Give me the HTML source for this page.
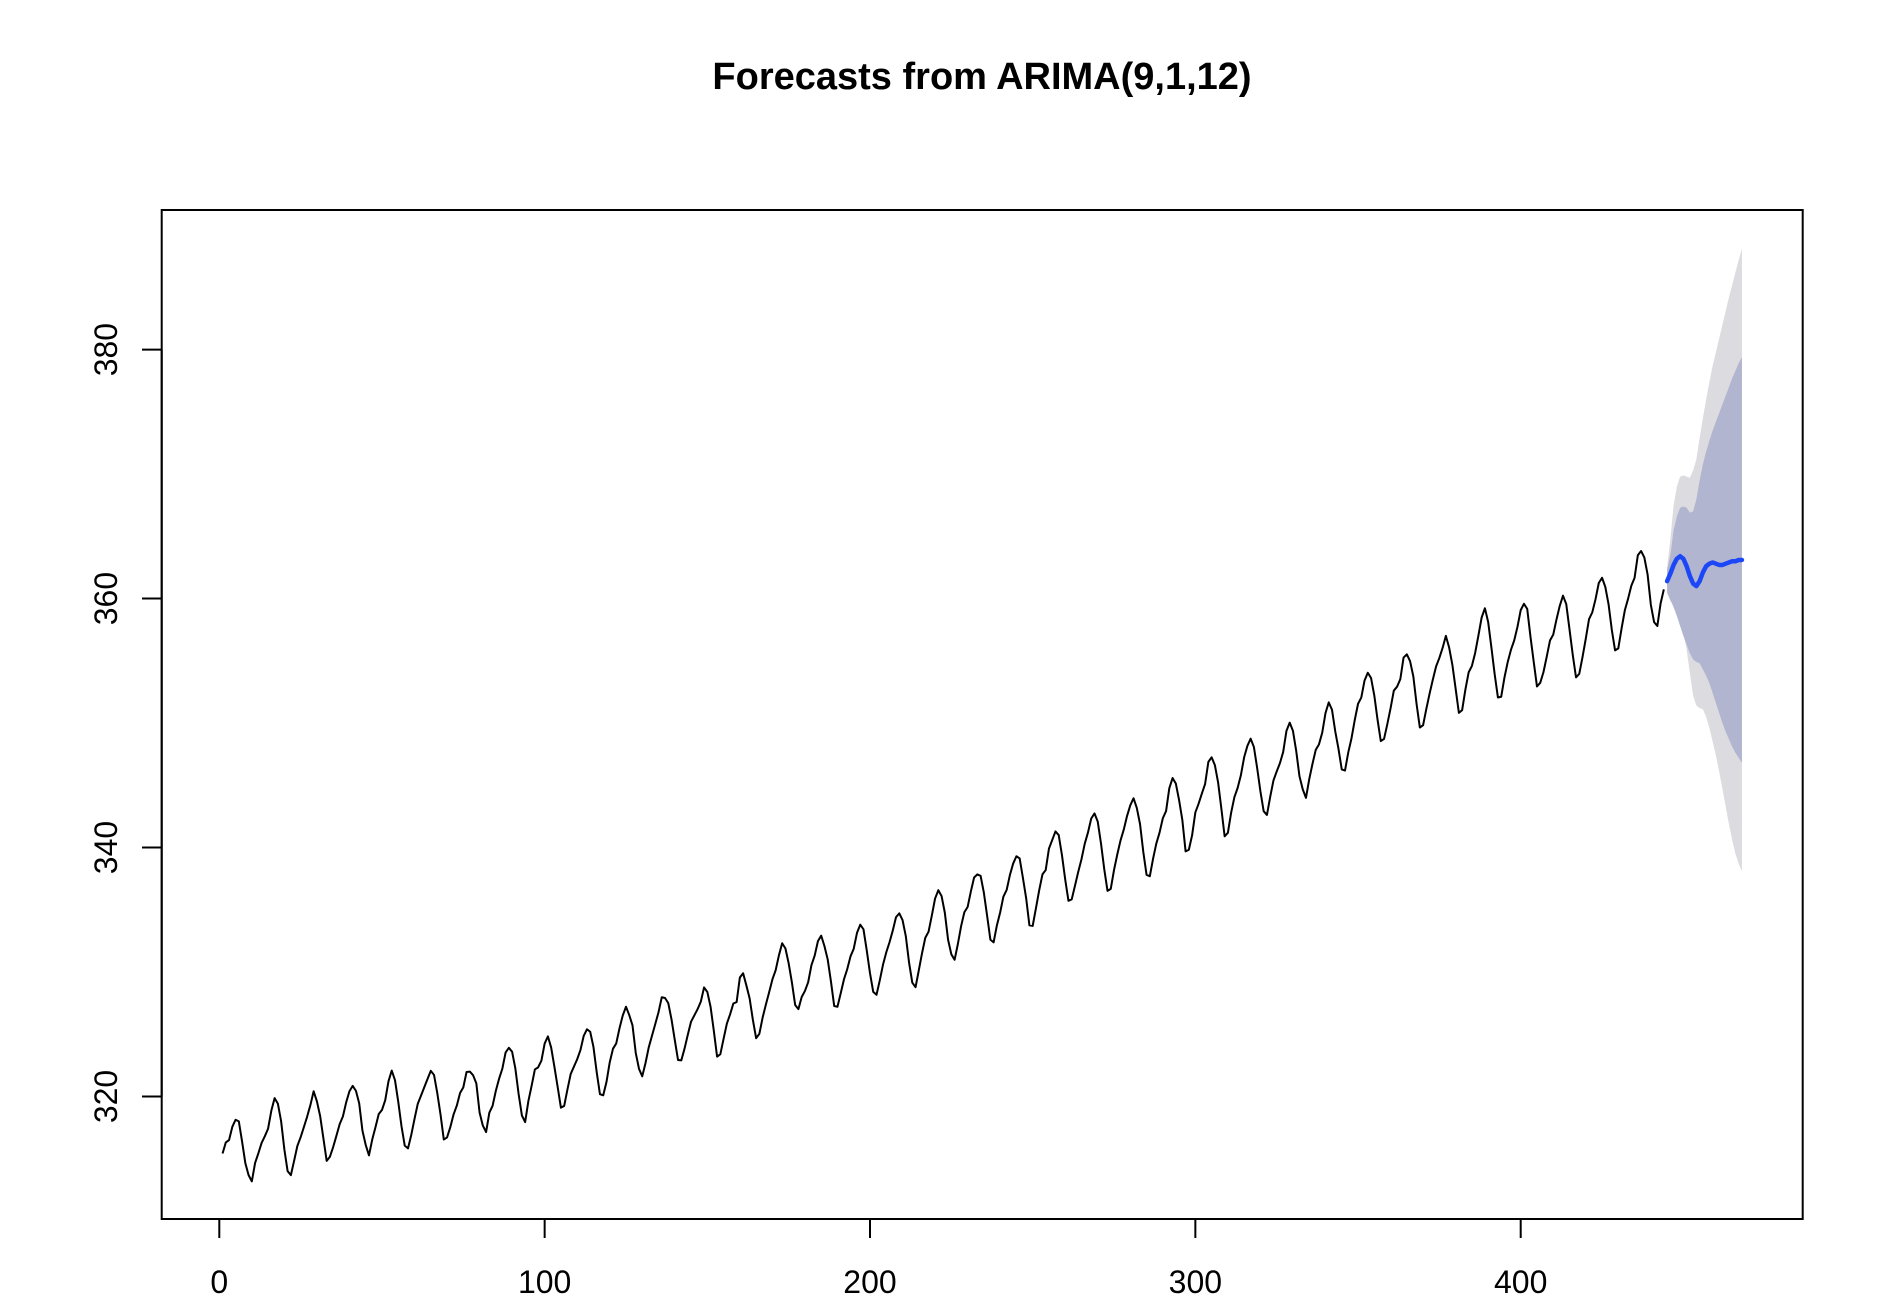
<!DOCTYPE html>
<html><head><meta charset="utf-8"><title>Forecasts from ARIMA(9,1,12)</title>
<style>
html,body{margin:0;padding:0;background:#fff;}
svg{display:block;font-family:"Liberation Sans",sans-serif;}
</style></head>
<body>
<svg id="chart" width="1880" height="1300" viewBox="0 0 1880 1300" xmlns="http://www.w3.org/2000/svg">
<rect width="1880" height="1300" fill="#fff"/>
<text x="982" y="89" text-anchor="middle" font-size="38" font-weight="bold">Forecasts from ARIMA(9,1,12)</text>
<g id="bands"></g>
<g id="series"></g>
<g id="axes"></g>
<rect x="161.7" y="210" width="1641" height="1009" fill="none" stroke="#000" stroke-width="2"/>
</svg>
<script>
const co2Values = [
315.42,316.31,316.50,317.56,318.13,318.00,316.39,314.65,313.68,313.18,314.66,315.43,
316.27,316.81,317.42,318.87,319.87,319.43,318.01,315.74,314.00,313.68,314.84,316.03,
316.73,317.54,318.38,319.31,320.42,319.61,318.42,316.63,314.83,315.16,315.94,316.85,
317.78,318.40,319.53,320.42,320.85,320.45,319.45,317.25,316.11,315.27,316.53,317.53,
318.58,318.92,319.70,321.22,322.08,321.31,319.58,317.61,316.05,315.83,316.91,318.20,
319.41,320.07,320.74,321.40,322.06,321.73,320.27,318.54,316.54,316.71,317.53,318.55,
319.27,320.28,320.73,321.97,322.00,321.71,321.05,318.71,317.66,317.14,318.70,319.25,
320.46,321.43,322.23,323.54,323.91,323.59,322.24,320.20,318.48,317.94,319.63,320.87,
322.17,322.34,322.88,324.25,324.83,323.93,322.38,320.76,319.10,319.24,320.56,321.80,
322.40,322.99,323.73,324.86,325.40,325.20,323.98,321.95,320.18,320.09,321.16,322.74,
323.83,324.26,325.47,326.50,327.21,326.54,325.72,323.50,322.22,321.62,322.69,323.95,
324.89,325.82,326.77,327.97,327.91,327.50,326.18,324.53,322.93,322.90,323.85,324.96,
326.01,326.51,327.01,327.62,328.76,328.40,327.20,325.27,323.20,323.40,324.63,325.85,
326.60,327.47,327.58,329.56,329.90,328.92,327.88,326.16,324.68,325.04,326.34,327.39,
328.37,329.40,330.14,331.33,332.31,331.90,330.70,329.15,327.35,327.02,327.99,328.48,
329.18,330.55,331.32,332.48,332.92,332.08,331.01,329.23,327.27,327.21,328.29,329.41,
330.23,331.25,331.87,333.14,333.80,333.43,331.73,329.90,328.40,328.17,329.32,330.59,
331.58,332.39,333.33,334.41,334.71,334.17,332.89,330.77,329.14,328.78,330.14,331.52,
332.75,333.24,334.53,335.90,336.57,336.10,334.76,332.59,331.42,330.98,332.24,333.68,
334.80,335.22,336.47,337.59,337.84,337.72,336.37,334.51,332.60,332.38,333.75,334.78,
336.05,336.59,337.79,338.71,339.30,339.12,337.56,335.92,333.75,333.70,335.12,336.56,
337.84,338.19,339.91,340.60,341.29,341.00,339.39,337.43,335.72,335.84,336.93,338.04,
339.06,340.30,341.21,342.33,342.74,342.08,340.32,338.26,336.52,336.68,338.19,339.44,
340.57,341.44,342.53,343.39,343.96,343.18,341.88,339.65,337.81,337.69,339.09,340.32,
341.20,342.35,342.93,344.77,345.58,345.14,343.81,342.21,339.69,339.82,340.98,342.82,
343.52,344.33,345.11,346.88,347.25,346.62,345.22,343.11,340.90,341.18,342.80,344.04,
344.79,345.82,347.25,348.17,348.74,348.07,346.38,344.51,342.92,342.62,344.06,345.38,
346.11,346.78,347.68,349.37,350.03,349.37,347.76,345.73,344.68,343.99,345.48,346.72,
347.84,348.29,349.23,350.80,351.66,351.07,349.33,347.92,346.27,346.18,347.64,348.78,
350.25,351.54,352.05,353.41,354.04,353.62,352.22,350.27,348.55,348.72,349.91,351.18,
352.60,352.92,353.53,355.26,355.52,354.97,353.75,351.52,349.64,349.83,351.14,352.37,
353.50,354.55,355.23,356.04,357.00,356.07,354.67,352.76,350.82,351.04,352.69,354.07,
354.59,355.63,357.03,358.48,359.22,358.12,356.06,353.92,352.05,352.11,353.64,354.89,
355.88,356.63,357.72,359.07,359.58,359.17,356.94,354.92,352.94,353.23,354.09,355.33,
356.63,357.10,358.32,359.41,360.23,359.55,357.53,355.48,353.67,353.95,355.30,356.78,
358.34,358.89,359.95,361.25,361.67,360.94,359.55,357.49,355.84,356.00,357.59,359.05,
359.98,361.03,361.66,363.48,363.82,363.30,361.94,359.50,358.11,357.80,359.61,360.74
];
const forecastStart = 445;
const forecastMean = [361.4,362.0,362.7,363.2,363.4,363.2,362.6,361.8,361.2,361.0,361.4,362.1,362.6,362.8,362.9,362.8,362.7,362.7,362.8,362.9,363.0,363.0,363.1,363.1];
const upper80 = [362.3,363.5,365.5,366.6,367.3,367.4,367.3,366.9,367.0,368.0,369.5,370.8,371.8,372.7,373.5,374.2,374.9,375.6,376.3,377.0,377.7,378.3,378.9,379.4];
const upper95 = [362.5,364.8,367.5,369.0,369.8,369.9,369.8,369.7,370.3,371.2,372.9,374.5,376.0,377.4,378.7,379.8,380.9,382.0,383.1,384.2,385.2,386.2,387.2,388.1];
const lower80 = [360.5,359.9,359.3,358.6,357.8,357.0,356.3,355.6,355.1,354.9,354.8,354.3,353.8,353.2,352.4,351.6,350.8,350.0,349.3,348.7,348.1,347.6,347.2,346.8];
const lower95 = [360.4,359.8,359.5,358.9,358.2,357.3,355.9,354.0,352.2,351.4,351.2,351.1,350.5,349.6,348.5,347.4,346.1,344.7,343.3,341.9,340.6,339.5,338.7,338.1];
const xTicks = [0,100,200,300,400];
const yTicks = [320,340,360,380];

const NS = "http://www.w3.org/2000/svg";
function X(v){ return 219.3 + v*3.2535; }
function Y(v){ return 349.6 + (380 - v)*12.448; }
function mk(tag, attrs, parent){
  const e = document.createElementNS(NS, tag);
  for (const k in attrs) e.setAttribute(k, attrs[k]);
  parent.appendChild(e);
  return e;
}
const bands = document.getElementById('bands');
const series = document.getElementById('series');
const axes = document.getElementById('axes');

function bandPath(up, lo){
  let d = '';
  up.forEach((v,i)=>{ d += (i?'L':'M') + X(forecastStart+i).toFixed(2)+','+Y(v).toFixed(2); });
  for (let i=lo.length-1;i>=0;i--) d += 'L'+X(forecastStart+i).toFixed(2)+','+Y(lo[i]).toFixed(2);
  return d+'Z';
}
const b95 = mk('path',{d:bandPath(upper95,lower95),fill:'#dcdce0',stroke:'none'},bands);


const b80 = mk('path',{d:bandPath(upper80,lower80),fill:'#b2b5d0',stroke:'none'},bands);



let d = '';
co2Values.forEach((v,i)=>{ d += (i?'L':'M') + X(i+1).toFixed(2)+','+Y(v).toFixed(2); });
const obs = mk('path',{d:d,fill:'none',stroke:'#000','stroke-width':2,'stroke-linejoin':'round'},series);



let fd = '';
forecastMean.forEach((v,i)=>{ fd += (i?'L':'M') + X(forecastStart+i).toFixed(2)+','+Y(v).toFixed(2); });
const fl = mk('path',{d:fd,fill:'none',stroke:'#1b47f7','stroke-width':4.5,'stroke-linejoin':'round','stroke-linecap':'round'},series);



const xl = mk('line',{x1:X(xTicks[0]),x2:X(xTicks[xTicks.length-1]),y1:1219,y2:1219,stroke:'#000','stroke-width':2},axes);


xTicks.forEach(t=>{
  const l = mk('line',{x1:X(t),x2:X(t),y1:1219,y2:1238,stroke:'#000','stroke-width':2},axes);
  
  
  const tx = mk('text',{x:X(t),y:1293,'text-anchor':'middle','font-size':32},axes);
  tx.textContent = t;
  
  
});
const yl = mk('line',{x1:161.7,x2:161.7,y1:Y(yTicks[0]),y2:Y(yTicks[yTicks.length-1]),stroke:'#000','stroke-width':2},axes);


yTicks.forEach(t=>{
  const l = mk('line',{x1:142,x2:161.7,y1:Y(t),y2:Y(t),stroke:'#000','stroke-width':2},axes);
  
  
  const tx = mk('text',{x:117,y:Y(t),'text-anchor':'middle','font-size':32,transform:'rotate(-90 117 '+Y(t)+')'},axes);
  tx.textContent = t;
  
  
});
</script>
</body></html>
